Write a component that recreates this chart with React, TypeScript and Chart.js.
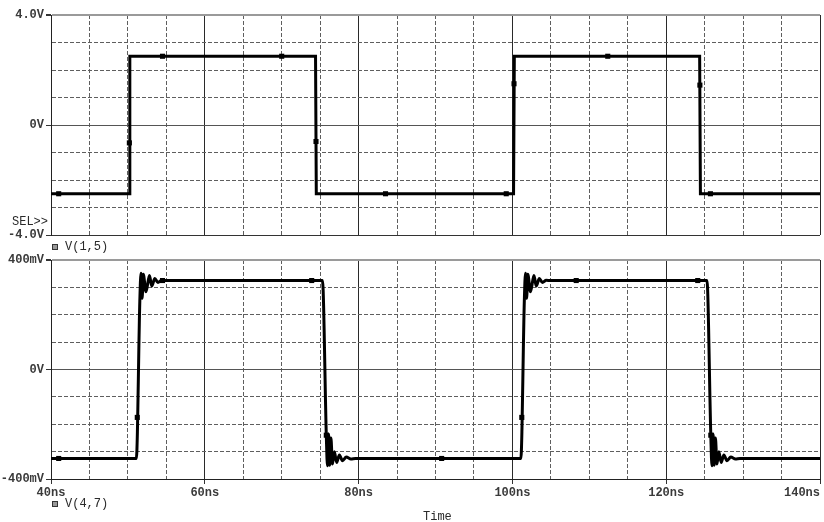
import React, { useEffect, useRef } from 'react';
import { Chart, registerables } from 'chart.js';
Chart.register(...registerables);

// ---------- data ----------
const topTimes = [40, 50.15, 50.25, 74.4, 74.5, 100.15, 100.25, 124.35, 124.45, 140];
const topValues = [-2.5, -2.5, 2.5, 2.5, -2.5, -2.5, 2.5, 2.5, -2.5, -2.5];
const topMarkerTimes = [41, 50.19, 54.5, 70, 74.46, 83.5, 99.2, 100.21, 112.4, 124.38, 125.75];
const topMarkerValues = [-2.5, -0.65, 2.5, 2.5, -0.6, -2.5, -2.5, 1.5, 2.5, 1.45, -2.5];

const bottomTimes = [
  40, 51.1, 51.55, 51.7, 51.85, 52.0, 52.35, 52.8, 53.1, 53.5, 53.9, 54.4, 55,
  75.3, 75.8, 75.95, 76.1, 76.25, 76.4, 76.6, 76.85, 77.15, 77.5, 77.9, 78.4, 79, 79.6,
  101.1, 101.55, 101.7, 101.85, 102.0, 102.35, 102.8, 103.1, 103.5, 103.9, 104.4, 105,
  125.3, 125.8, 125.95, 126.1, 126.25, 126.4, 126.6, 126.85, 127.15, 127.5, 127.9, 128.4, 129, 129.6,
  140,
];
const bottomValues = [
  -325, -325, 250, 352, 260, 348, 284, 343, 305, 332, 318, 326, 325,
  325, -240, -352, -236, -350, -250, -345, -300, -340, -312, -333, -320, -327, -325,
  -325, 250, 352, 260, 348, 284, 343, 305, 332, 318, 326, 325,
  325, -240, -352, -236, -350, -250, -345, -300, -340, -312, -333, -320, -327, -325,
  -325,
];
const bottomMarkerTimes = [41, 51.22, 54.5, 73.9, 75.8, 90.8, 101.22, 108.3, 124.1, 125.8];
const bottomMarkerValues = [-325, -175, 325, 325, -240, -325, -175, 325, 325, -240];

const timeLabelValues = [40, 60, 80, 100, 120, 140];
const timeLabelTexts = ['40ns', '60ns', '80ns', '100ns', '120ns', '140ns'];
const topLabelValues = [4, 0, -4];
const topLabelTexts = ['4.0V', '0V', '-4.0V'];
const bottomLabelValues = [400, 0, -400];
const bottomLabelTexts = ['400mV', '0V', '-400mV'];

const FONT = "'Liberation Mono', 'DejaVu Sans Mono', monospace";
const TEXT = '#2a2a2a';

function pts(xs: number[], ys: number[]) {
  return xs.map((x, i) => ({ x, y: ys[i] }));
}

function xScale(showLabels: boolean) {
  return {
    type: 'linear',
    min: 40,
    max: 140,
    afterFit: (s: any) => {
      s.height = showLabels ? 43 : 0;
      s.paddingLeft = 0;
      s.paddingRight = 0;
    },
    ticks: {
      display: showLabels,
      stepSize: 5,
      autoSkip: false,
      maxRotation: 0,
      padding: 2,
      color: '#3a3a3a',
      font: { family: FONT, size: 12, weight: 'bold' },
      callback: (v: number) => {
        const i = timeLabelValues.indexOf(v);
        if (i < 0) return '';
        return v === 140 ? timeLabelTexts[i] + '     ' : timeLabelTexts[i];
      },
    },
    grid: {
      color: (c: any) => (c.tick && c.tick.value % 20 === 0 ? '#2a2a2a' : '#5e5e5e'),
      lineWidth: 1,
      drawTicks: showLabels,
      tickLength: 5,
      tickColor: (c: any) => (c.tick && c.tick.value % 20 === 0 ? '#333' : 'rgba(0,0,0,0)'),
    },
    border: {
      display: showLabels,
      color: '#222',
      width: 1,
      dash: (c: any) => (c.tick && c.tick.value % 20 !== 0 ? [4, 2] : []),
    },
  };
}

function yScale(min: number, max: number, step: number, vals: number[], texts: string[]) {
  return {
    type: 'linear',
    min,
    max,
    afterFit: (s: any) => {
      s.width = 51;
    },
    ticks: {
      stepSize: step,
      autoSkip: false,
      padding: 2,
      color: '#3a3a3a',
      font: { family: FONT, size: 12, weight: 'bold' },
      callback: (v: number) => {
        const i = vals.indexOf(v);
        return i < 0 ? '' : texts[i];
      },
    },
    grid: {
      color: (c: any) => {
        const v = c.tick && c.tick.value;
        if (v === max) return '#9a9a9a';
        if (v === min) return '#333';
        if (v === 0) return '#555';
        return '#5e5e5e';
      },
      lineWidth: (c: any) => (c.tick && c.tick.value === max ? 2 : 1),
      tickLength: 5,
      tickColor: (c: any) => (c.tick && vals.indexOf(c.tick.value) >= 0 ? '#333' : 'rgba(0,0,0,0)'),
    },
    border: {
      display: true,
      color: '#222',
      width: 1,
      dash: (c: any) => {
        const v = c.tick && c.tick.value;
        if (v === undefined || v === max || v === min || v === 0) return [];
        return [4, 2];
      },
    },
  };
}

function makeConfig(line: any[], markers: any[], y: any, showX: boolean, padBottom: number, smooth: boolean) {
  return {
    type: 'line',
    data: {
      datasets: [
        {
          data: line,
          borderColor: '#000',
          borderWidth: 3,
          pointRadius: 0,
          tension: 0,
          cubicInterpolationMode: smooth ? 'monotone' : 'default',
          borderJoinStyle: smooth ? 'round' : 'miter',
          fill: false,
        },
        {
          data: markers,
          showLine: false,
          pointStyle: 'rect',
          pointRadius: 3.6,
          pointBackgroundColor: '#000',
          pointBorderWidth: 0,
        },
      ],
    },
    options: {
      animation: false,
      responsive: false,
      events: [],
      layout: { padding: { top: 15, right: 1, left: 0, bottom: padBottom } },
      plugins: { legend: { display: false }, tooltip: { enabled: false } },
      scales: { x: xScale(showX), y },
    },
  };
}

const textStyle: React.CSSProperties = {
  position: 'absolute',
  fontFamily: FONT,
  fontSize: 12,
  lineHeight: '14px',
  color: TEXT,
  whiteSpace: 'pre',
};

const squareStyle = (top: number): React.CSSProperties => ({
  position: 'absolute',
  left: 52,
  top,
  width: 4,
  height: 4,
  border: '1px solid #333',
  background: '#999',
});

export default function App() {
  const topRef = useRef<HTMLCanvasElement>(null);
  const botRef = useRef<HTMLCanvasElement>(null);

  useEffect(() => {
    const c1 = new Chart(
      topRef.current as HTMLCanvasElement,
      makeConfig(
        pts(topTimes, topValues),
        pts(topMarkerTimes, topMarkerValues),
        yScale(-4, 4, 1, topLabelValues, topLabelTexts),
        false,
        15,
        false
      ) as any
    );
    const c2 = new Chart(
      botRef.current as HTMLCanvasElement,
      makeConfig(
        pts(bottomTimes, bottomValues),
        pts(bottomMarkerTimes, bottomMarkerValues),
        yScale(-400, 400, 100, bottomLabelValues, bottomLabelTexts),
        true,
        0,
        true
      ) as any
    );
    return () => {
      c1.destroy();
      c2.destroy();
    };
  }, []);

  return (
    <div style={{ position: 'fixed', left: 0, top: 0, width: 824, height: 522, background: '#fff' }}>
      <canvas ref={topRef} width={824} height={250} style={{ position: 'absolute', left: 0, top: 0 }} />
      <canvas ref={botRef} width={824} height={277} style={{ position: 'absolute', left: 0, top: 245 }} />
      <div style={{ ...textStyle, left: 12, top: 215 }}>SEL&gt;&gt;</div>
      <div style={squareStyle(244)} />
      <div style={{ ...textStyle, left: 65, top: 240 }}>V(1,5)</div>
      <div style={squareStyle(501)} />
      <div style={{ ...textStyle, left: 65, top: 497 }}>V(4,7)</div>
      <div style={{ ...textStyle, left: 423, top: 510 }}>Time</div>
    </div>
  );
}
